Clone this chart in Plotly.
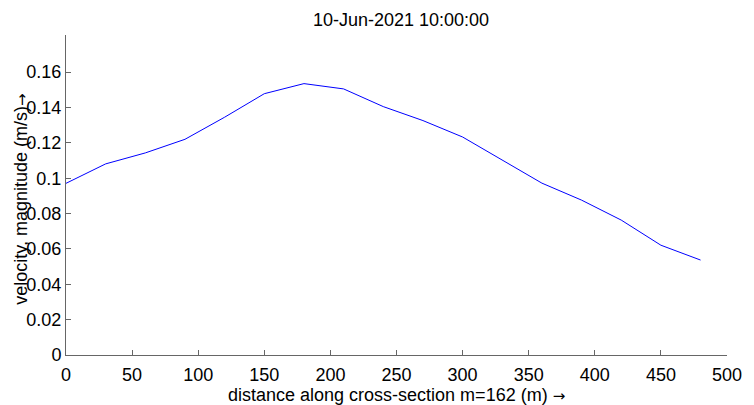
import plotly.graph_objects as go

# distance along the cross-section (m) and velocity magnitude (m/s)
distance = [0, 30, 60, 90, 120, 150, 180, 210, 240, 270, 300, 330, 360, 390, 420, 450, 480]
velocity = [0.0971, 0.1081, 0.1143, 0.1220, 0.1345, 0.1478, 0.1535, 0.1505, 0.1405,
            0.1326, 0.1233, 0.1102, 0.0972, 0.0876, 0.0763, 0.0621, 0.0537]

x_ticks = [0, 50, 100, 150, 200, 250, 300, 350, 400, 450, 500]
y_ticks = [0, 0.02, 0.04, 0.06, 0.08, 0.1, 0.12, 0.14, 0.16]
y_tick_text = ["0", "0.02", "0.04", "0.06", "0.08", "0.1", "0.12", "0.14", "0.16"]

FONT = "Liberation Sans, Arial, sans-serif"
FS = 18
AXIS_COLOR = "#666666"
ARROW = '<span style="font-family:DejaVu Sans;font-size:15px">\u2192</span>'

fig = go.Figure()
fig.add_trace(go.Scatter(
    x=distance, y=velocity, mode="lines",
    line=dict(color="#0000ff", width=1),
    showlegend=False, hoverinfo="x+y",
))

axis_common = dict(
    showline=True, linecolor=AXIS_COLOR, linewidth=1, mirror=False,
    ticks="inside", ticklen=5, tickcolor=AXIS_COLOR, tickwidth=1,
    showgrid=False, zeroline=False,
    tickfont=dict(family=FONT, size=FS, color="#000000"),
)

fig.update_layout(
    width=754, height=405,
    margin=dict(l=66, r=17, t=35, b=50),
    paper_bgcolor="white", plot_bgcolor="white",
    font=dict(family=FONT, size=FS, color="#000000"),
    title=dict(text="10-Jun-2021 10:00:00", x=401 / 754, xanchor="center",
               y=1 - 20 / 405, yanchor="middle",
               font=dict(family=FONT, size=FS, color="#000000")),
    xaxis=dict(range=[0, 500], tickvals=x_ticks, ticktext=[str(v) for v in x_ticks],
               ticklabelstandoff=3, **axis_common),
    yaxis=dict(range=[0, 0.181], tickvals=y_ticks, ticktext=y_tick_text,
               **axis_common),
    annotations=[
        dict(text="distance along cross-section m=162 (m) " + ARROW,
             xref="paper", yref="paper", x=0.5, y=-(395 - 355) / 320,
             xanchor="center", yanchor="middle", showarrow=False,
             font=dict(family=FONT, size=FS, color="#000000")),
        dict(text="velocity, magnitude (m/s)" + ARROW,
             xref="paper", yref="paper", x=-(66 - 20) / 671, y=(355 - 199) / 320,
             xanchor="center", yanchor="middle", textangle=-90, showarrow=False,
             font=dict(family=FONT, size=FS, color="#000000")),
    ],
)

fig.write_html("out.html")
